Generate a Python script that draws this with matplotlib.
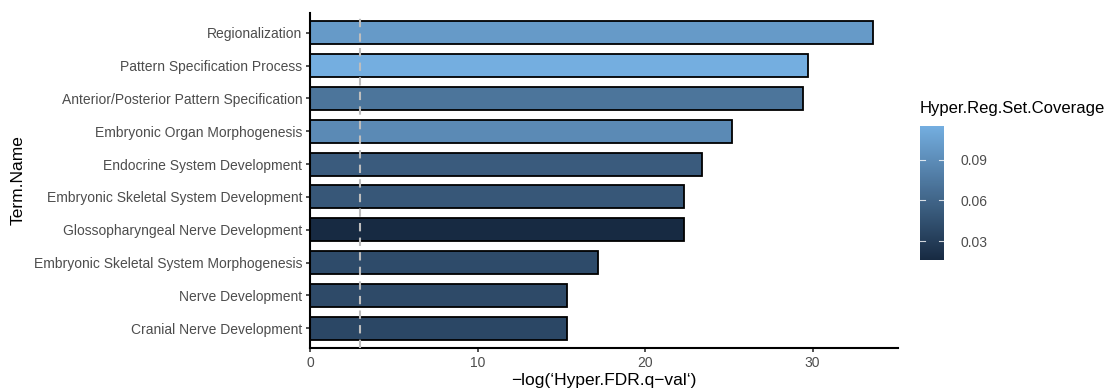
import numpy as np
import matplotlib
matplotlib.use("Agg")
import matplotlib.pyplot as plt
from matplotlib.colors import LinearSegmentedColormap, Normalize
from matplotlib.colorbar import ColorbarBase

plt.rcParams['font.family'] = ['Liberation Sans', 'DejaVu Sans']

# GO term enrichment results
terms = [
    "Regionalization",
    "Pattern Specification Process",
    "Anterior/Posterior Pattern Specification",
    "Embryonic Organ Morphogenesis",
    "Endocrine System Development",
    "Embryonic Skeletal System Development",
    "Glossopharyngeal Nerve Development",
    "Embryonic Skeletal System Morphogenesis",
    "Nerve Development",
    "Cranial Nerve Development",
]
neg_log_fdr = [33.6, 29.7, 29.45, 25.2, 23.4, 22.3, 22.3, 17.2, 15.35, 15.35]
coverage = [0.100, 0.115, 0.072, 0.088, 0.053, 0.050, 0.016, 0.041, 0.040, 0.038]
cbar_ticks = [0.03, 0.06, 0.09]
x_ticks = [0, 10, 20, 30]
fdr_cutoff = 3.0

W, H = 1112, 390

cmap = LinearSegmentedColormap.from_list("cov", ["#172a42", "#74aee0"])
norm = Normalize(vmin=min(coverage), vmax=max(coverage))

fig = plt.figure(figsize=(W / 100, H / 100), dpi=100)
ax = fig.add_axes([310 / W, 1 - 348 / H, 588 / W, 335 / H])

y = np.arange(len(terms))
ax.barh(y, neg_log_fdr, height=0.7, color=cmap(norm(np.array(coverage))),
        edgecolor="black", linewidth=1.3, zorder=2)
ax.axvline(fdr_cutoff, color="#bdbdbd", linestyle=(0, (4, 3)), linewidth=1.5, zorder=3)

ax.set_ylim(len(terms) - 0.4, -0.6)
ax.set_xlim(0, 35.1)
ax.set_yticks(y)
ax.set_yticklabels(terms)
ax.set_xticks(x_ticks)

for side in ("top", "right"):
    ax.spines[side].set_visible(False)
for side in ("left", "bottom"):
    ax.spines[side].set_linewidth(1.5)
    ax.spines[side].set_color("black")

ax.tick_params(axis="both", colors="#333333", labelcolor="#4d4d4d",
               labelsize=10, length=3, width=1.2, pad=2.5)

fig.text(18 / W, 1 - 180 / H, "Term.Name", fontsize=12.5, color="black",
         rotation=90, ha="center", va="center")
fig.text(604 / W, 1 - 381 / H, "\u2212log(\u2018Hyper.FDR.q\u2212val\u2018)",
         fontsize=12.5, color="black", ha="center", va="center")

# Colour legend
cax = fig.add_axes([920 / W, 1 - 260 / H, 24 / W, 134 / H])
cb = ColorbarBase(cax, cmap=cmap, norm=norm, orientation="vertical")
cb.outline.set_visible(False)
cb.set_ticks(cbar_ticks)
cb.set_ticklabels([f"{t:.2f}" for t in cbar_ticks])
cax.tick_params(axis="y", length=0, labelsize=10, labelcolor="#4d4d4d", pad=12)
for t in cbar_ticks:
    cax.plot([0, 0.22], [t, t], color="white", alpha=0.8, linewidth=0.8,
             transform=cax.get_yaxis_transform())
    cax.plot([0.78, 1], [t, t], color="white", alpha=0.8, linewidth=0.8,
             transform=cax.get_yaxis_transform())
fig.text(920 / W, 1 - 109 / H, "Hyper.Reg.Set.Coverage", fontsize=12,
         color="black", ha="left", va="center")

fig.savefig("out.png", dpi=100)
